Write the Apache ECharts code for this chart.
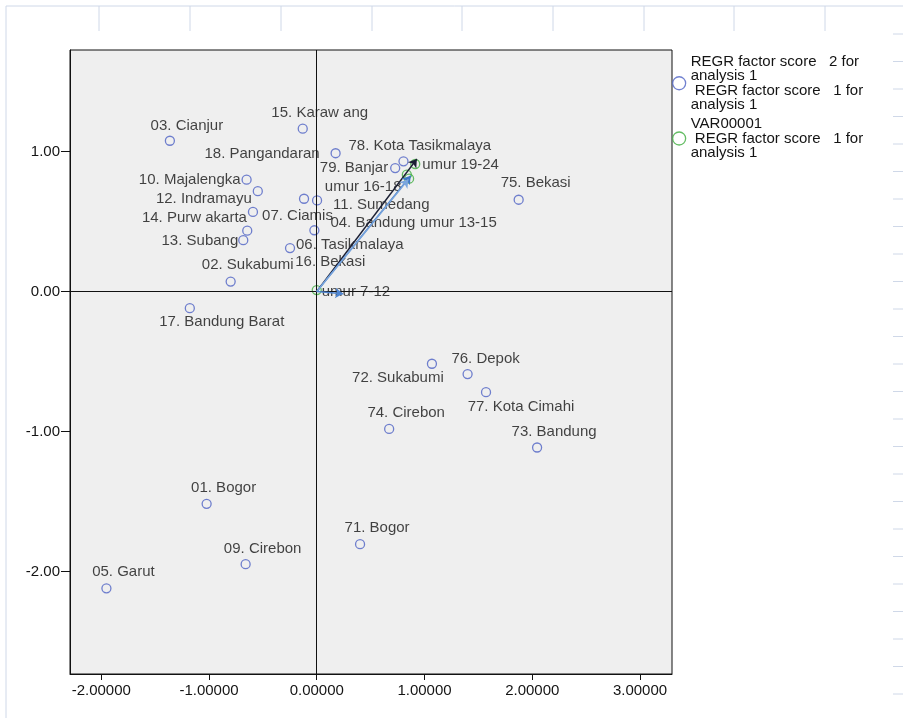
<!DOCTYPE html>
<html>
<head>
<meta charset="utf-8">
<script src="https://cdn.jsdelivr.net/npm/echarts@6/dist/echarts.min.js"></script>
<style>
    html, body {margin:0;padding:0;background:#fff;}
    #chart {width:903px;height:718px;}
</style>
</head>
<body>
<div id="chart"></div>
<script>
    // kabupaten / kota scores (blue)
    var caseNames = ['03. Cianjur', '15. Karaw ang', '18. Pangandaran', '78. Kota Tasikmalaya', '79. Banjar',
        '75. Bekasi', '10. Majalengka', '12. Indramayu', '14. Purw akarta', '07. Ciamis', '13. Subang',
        '16. Bekasi', '11. Sumedang', '04. Bandung', '06. Tasikmalaya', '02. Sukabumi', '17. Bandung Barat',
        '72. Sukabumi', '76. Depok', '77. Kota Cimahi', '74. Cirebon', '73. Bandung', '01. Bogor',
        '09. Cirebon', '05. Garut', '71. Bogor'];
    var caseX = [-1.363, -0.130, 0.175, 0.805, 0.728, 1.874, -0.651, -0.547, -0.592, -0.118, -0.682,
        -0.645, 0.003, -0.022, -0.248, -0.799, -1.178, 1.069, 1.400, 1.571, 0.672, 2.045, -1.022,
        -0.660, -1.952, 0.402];
    var caseY = [1.076, 1.162, 0.987, 0.929, 0.881, 0.655, 0.798, 0.716, 0.568, 0.662, 0.366,
        0.434, 0.650, 0.437, 0.310, 0.071, -0.119, -0.516, -0.590, -0.719, -0.981, -1.114, -1.516,
        -1.947, -2.119, -1.804];

    // age group points (green)
    var varNames = ['umur 7-12', 'umur 13-15', 'umur 16-18', 'umur 19-24'];
    var varX = [0.000, 0.857, 0.836, 0.914];
    var varY = [0.010, 0.805, 0.834, 0.910];

    // vectors from the origin
    var arrowX = [0.929, 0.872, 0.850, 0.245];
    var arrowY = [0.946, 0.826, 0.800, -0.016];
    var arrowColor = ['#1b1f33', '#3f78c6', '#7aa6de', '#4f86d2'];

    var xTicks = [-2, -1, 0, 1, 2, 3];
    var yTicks = [-2, -1, 0, 1];

    var blueName = 'REGR factor score   2 for\nanalysis 1\n REGR factor score   1 for\nanalysis 1';
    var greenName = 'VAR00001\n REGR factor score   1 for\nanalysis 1';

    // label placement: [align, dx, dy] from the marker centre
    var labelPlace = {
        '03. Cianjur': ['center', 17, -15],
        '15. Karaw ang': ['center', 17, -16],
        '18. Pangandaran': ['right', -16, 1],
        '78. Kota Tasikmalaya': ['left', -55, -15],
        '79. Banjar': ['right', -7, 0],
        '75. Bekasi': ['center', 17, -17],
        '10. Majalengka': ['right', -6, 0],
        '12. Indramayu': ['right', -6, 8],
        '14. Purw akarta': ['right', -6, 6],
        '07. Ciamis': ['left', -42, 17],
        '13. Subang': ['right', -5, 1],
        '16. Bekasi': ['left', 48, 31],
        '11. Sumedang': ['left', 16, 4],
        '04. Bandung': ['left', 16, -7],
        '06. Tasikmalaya': ['left', 6, -3],
        '02. Sukabumi': ['center', 17, -17],
        '17. Bandung Barat': ['center', 32, 14],
        '72. Sukabumi': ['center', -34, 14],
        '76. Depok': ['center', 18, -15],
        '77. Kota Cimahi': ['center', 35, 15],
        '74. Cirebon': ['center', 17, -16],
        '73. Bandung': ['center', 17, -16],
        '01. Bogor': ['center', 17, -16],
        '09. Cirebon': ['center', 17, -15],
        '05. Garut': ['center', 17, -16],
        '71. Bogor': ['center', 17, -16],
        'umur 7-12': ['left', 5, 2],
        'umur 13-15': ['left', 11, 44],
        'umur 16-18': ['left', -82, 12],
        'umur 19-24': ['left', 7, 1]
    };

    var txtFont = '"Liberation Sans", Arial, sans-serif';
    var txtColor = '#141414';

    function makePoints(names, xs, ys) {
        return names.map(function (n, i) {
            var p = labelPlace[n];
            return {
                name: n,
                value: [xs[i], ys[i]],
                label: {
                    show: true, formatter: n, position: 'inside',
                    align: p[0], verticalAlign: 'middle', offset: [p[1], p[2]],
                    color: txtColor, fontSize: 15, fontFamily: txtFont, textBorderWidth: 0
                }
            };
        });
    }

    var arrowData = arrowX.map(function (x, i) {
        return {coords: [[0, 0], [x, arrowY[i]]], lineStyle: {color: arrowColor[i]}};
    });

    // viewer frame lines (decoration only)
    var deco = [];
    var frameStyle = {stroke: '#cfd8e8', lineWidth: 1};
    deco.push({type: 'line', shape: {x1: 6, y1: 6, x2: 903, y2: 6}, style: frameStyle});
    deco.push({type: 'line', shape: {x1: 6, y1: 6, x2: 6, y2: 718}, style: frameStyle});
    [99, 190, 281, 372, 462, 553, 644, 734, 825].forEach(function (x) {
        deco.push({type: 'line', shape: {x1: x, y1: 6, x2: x, y2: 31}, style: frameStyle});
    });
    for (var yy = 34; yy < 718; yy += 27.5) {
        deco.push({type: 'line', shape: {x1: 893, y1: yy, x2: 903, y2: yy}, style: frameStyle});
    }

    var chart = echarts.init(document.getElementById('chart'), null, {renderer: 'canvas'});
    var option = {
        animation: false,
        backgroundColor: '#fff',
        graphic: deco,
        grid: {
            left: 70, right: 231, top: 50, bottom: 44,
            show: true, backgroundColor: '#efefef', borderColor: '#111', borderWidth: 1
        },
        legend: {
            orient: 'vertical', left: 672, top: 54, itemGap: 4, padding: 0,
            itemWidth: 13, itemHeight: 13, selectedMode: false,
            textStyle: {color: txtColor, fontSize: 15, fontFamily: txtFont, lineHeight: 14.5},
            data: [
                {name: blueName, icon: 'circle', itemStyle: {color: '#fff', borderColor: '#4d62c4', borderWidth: 1.3}},
                {name: greenName, icon: 'circle', itemStyle: {color: '#fff', borderColor: '#3dac3d', borderWidth: 1.3}}
            ]
        },
        xAxis: {
            type: 'value', min: -2.29, max: 3.297,
            axisLine: {show: true, onZero: false, lineStyle: {color: '#111'}},
            axisTick: {show: true, length: 6, customValues: xTicks, lineStyle: {color: '#111'}},
            axisLabel: {
                customValues: xTicks, margin: 9, color: txtColor, fontSize: 15, fontFamily: txtFont,
                formatter: function (v) { return v.toFixed(5); }
            },
            splitLine: {show: false}
        },
        yAxis: {
            type: 'value', min: -2.731, max: 1.724,
            axisLine: {show: true, onZero: false, lineStyle: {color: '#111'}},
            axisTick: {show: true, length: 9, customValues: yTicks, lineStyle: {color: '#111'}},
            axisLabel: {
                customValues: yTicks, margin: 10, color: txtColor, fontSize: 15, fontFamily: txtFont,
                formatter: function (v) { return v.toFixed(2); }
            },
            splitLine: {show: false}
        },
        series: [
            {
                name: blueName,
                type: 'scatter',
                symbol: 'circle',
                symbolSize: 9,
                itemStyle: {color: 'transparent', borderColor: '#4d62c4', borderWidth: 1.3},
                emphasis: {disabled: true},
                data: makePoints(caseNames, caseX, caseY),
                markLine: {
                    silent: true, symbol: 'none', label: {show: false},
                    lineStyle: {color: '#111', type: 'solid', width: 1},
                    data: [{xAxis: 0}, {yAxis: 0}]
                },
                z: 3
            },
            {
                name: greenName,
                type: 'scatter',
                symbol: 'circle',
                symbolSize: 9,
                itemStyle: {color: 'transparent', borderColor: '#3dac3d', borderWidth: 1.3},
                emphasis: {disabled: true},
                data: makePoints(varNames, varX, varY),
                z: 4
            },
            {
                type: 'lines',
                coordinateSystem: 'cartesian2d',
                symbol: ['none', 'arrow'],
                symbolSize: 8,
                lineStyle: {width: 1.4, opacity: 1},
                silent: true,
                data: arrowData,
                z: 5
            }
        ]
    };
    chart.setOption(option);
</script>
</body>
</html>
